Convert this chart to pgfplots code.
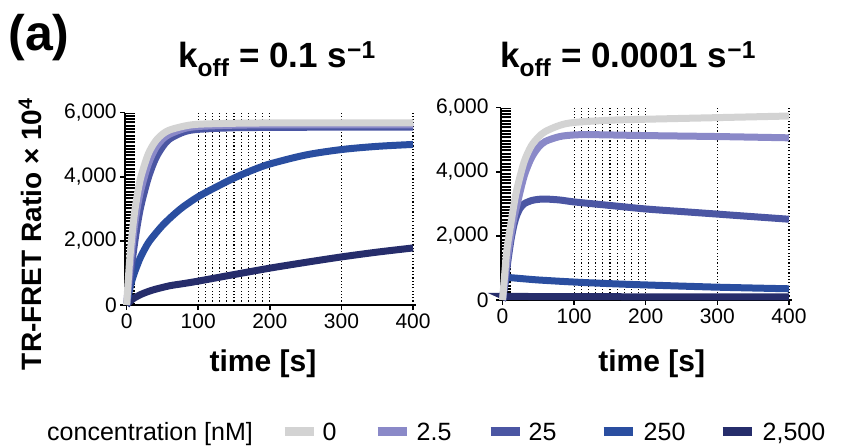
\documentclass[border=0pt]{standalone}
\usepackage{fontspec}
\setmainfont{Liberation Sans}
\usepackage{pgfplots}
\pgfplotsset{compat=1.18}
\definecolor{c0}{HTML}{D3D3D3}
\definecolor{c1}{HTML}{8A89C8}
\definecolor{c2}{HTML}{4B56A3}
\definecolor{c3}{HTML}{2A4EA0}
\definecolor{c4}{HTML}{262D6B}
\pgfplotsset{panel/.style={
  scale only axis, width=290.7bp, height=192.3bp, anchor=south west,
  xmin=-2, xmax=404, ymin=0, ymax=6000, enlargelimits=false,
  axis x line=bottom, axis y line=left,
  axis line style={line width=1.5bp,-},
  tick style={black,line width=1.5bp}, tick align=outside, major tick length=5bp,
  xtick={0,100,200,300,400}, ytick={0,2000,4000,6000},
  minor xtick={0.5,1,...,10.5}, minor tick length=0pt, grid=minor,
  minor grid style={black, line width=1.1bp, dash pattern=on 2bp off 1.3bp},
  /pgf/number format/assume math mode=true,
  /pgf/number format/1000 sep={,},
  ticklabel style={font=\fontsize{21bp}{24bp}\selectfont},
  extra x ticks={100,110,...,200,300,400},
  extra x tick labels={},
  extra x tick style={grid=major, major tick length=0pt,
     major grid style={black, line width=1.2bp, dash pattern=on 1.2bp off 2.1bp}},
  clip=false,
  every axis plot/.append style={line width=7bp, smooth, no markers, forget plot},
  title style={font=\fontsize{35bp}{40bp}\selectfont\bfseries, anchor=base},
  xlabel style={font=\fontsize{30bp}{34bp}\selectfont\bfseries, anchor=base},
  xlabel={time [s]},
}}
\begin{document}
\begin{tikzpicture}
\useasboundingbox (0,0) rectangle (843bp,448bp);
\node[font=\fontsize{50bp}{56bp}\selectfont\bfseries] at (39bp,410.5bp) {(a)};

\begin{axis}[panel, at={(125.2bp,143bp)},
  title={k\textsubscript{off} = 0.1 s\textsuperscript{−1}},
  title style={at={(axis description cs:0.522,1)}, yshift=39.4bp},
  xlabel style={at={(axis description cs:0.474,0)}, yshift=-66.7bp},
  ylabel={TR-FRET Ratio × 10\textsuperscript{4}},
  ylabel style={font=\fontsize{28bp}{32bp}\selectfont\bfseries, at={(axis description cs:-0.3275,0.369)}, anchor=center},
  legend columns=6, legend cell align=left,
  legend style={at={(axis description cs:-0.269,-0.6604)}, anchor=west, draw=none, fill=none, inner sep=0pt,
    font=\fontsize{25bp}{30bp}\selectfont, /tikz/column sep=0pt, nodes={inner sep=0pt}},
  legend image code/.code={\draw[#1,line width=9bp] (0bp,0bp) -- (29bp,0bp);},
]
\addlegendimage{empty legend}
\addlegendentry{\makebox[233bp][l]{concentration [nM]\vphantom{[]}}}
\addlegendimage{c0}
\addlegendentry{\makebox[55bp][l]{\hspace{4.5bp}0\vphantom{[]}}}
\addlegendimage{c1}
\addlegendentry{\makebox[75bp][l]{\hspace{5.5bp}2.5\vphantom{[]}}}
\addlegendimage{c2}
\addlegendentry{\makebox[75bp][l]{\hspace{4.5bp}25\vphantom{[]}}}
\addlegendimage{c3}
\addlegendentry{\makebox[81bp][l]{\hspace{6.5bp}250\vphantom{[]}}}
\addlegendimage{c4}
\addlegendentry{\makebox[80bp][l]{\hspace{6.5bp}2,500\vphantom{[]}}}

\addplot[c4] coordinates {(0,0)(5,120)(10,210)(20,330)(30,420)(40,490)(60,600)(80,670)(100,745)(150,950)(200,1150)(250,1330)(300,1500)(350,1650)(400,1780)};
\addplot[c3] coordinates {(0,0)(3,350)(6,650)(10,950)(15,1250)(20,1520)(30,1930)(40,2220)(50,2480)(60,2700)(70,2900)(80,3080)(100,3380)(125,3680)(150,3960)(175,4200)(200,4400)(250,4680)(300,4850)(350,4950)(400,5010)};
\addplot[c2] coordinates {(0,0)(5,900)(10,1750)(15,2500)(20,3100)(30,3950)(40,4550)(50,4930)(60,5180)(80,5400)(100,5480)(150,5530)(200,5540)(300,5550)(400,5550)};
\addplot[c1] coordinates {(0,0)(5,1250)(10,2300)(15,3050)(20,3600)(30,4380)(40,4880)(50,5170)(60,5330)(80,5500)(100,5570)(150,5610)(200,5620)(300,5620)(400,5620)};
\addplot[c0] coordinates {(0,0)(2,700)(5,1600)(10,2700)(15,3450)(20,4000)(30,4700)(40,5100)(50,5330)(60,5460)(80,5580)(100,5640)(150,5670)(200,5680)(300,5680)(400,5680)};
\end{axis}

\begin{axis}[panel, at={(501.1bp,148bp)},
  title={k\textsubscript{off} = 0.0001 s\textsuperscript{−1}},
  title style={at={(axis description cs:0.4365,1)}, yshift=34.4bp},
  xlabel style={at={(axis description cs:0.518,0)}, yshift=-71.7bp},
  yticklabel style={xshift=-4bp},
]
\addplot[c4] coordinates {(0,0)(3,100)(10,110)(100,105)(200,100)(300,100)(400,95)};
\addplot[c3] coordinates {(0,0)(2,350)(5,650)(8,700)(12,695)(20,680)(50,625)(100,560)(150,510)(200,470)(300,400)(400,350)};
\addplot[c2] coordinates {(0,0)(4,600)(8,1300)(12,1900)(16,2350)(20,2650)(25,2880)(30,3000)(40,3100)(50,3140)(60,3150)(80,3120)(100,3060)(150,2950)(200,2840)(250,2760)(300,2680)(350,2600)(400,2520)};
\addplot[c1] coordinates {(0,0)(5,1000)(10,1800)(15,2450)(20,2950)(30,3850)(40,4420)(50,4760)(60,4950)(80,5100)(100,5150)(120,5160)(150,5150)(200,5130)(300,5100)(400,5060)};
\addplot[c0] coordinates {(0,0)(3,800)(6,1550)(10,2150)(15,2850)(20,3450)(30,4300)(40,4800)(50,5080)(60,5260)(80,5450)(100,5540)(150,5610)(200,5640)(300,5690)(400,5740)};
\end{axis}
\end{tikzpicture}
\end{document}
